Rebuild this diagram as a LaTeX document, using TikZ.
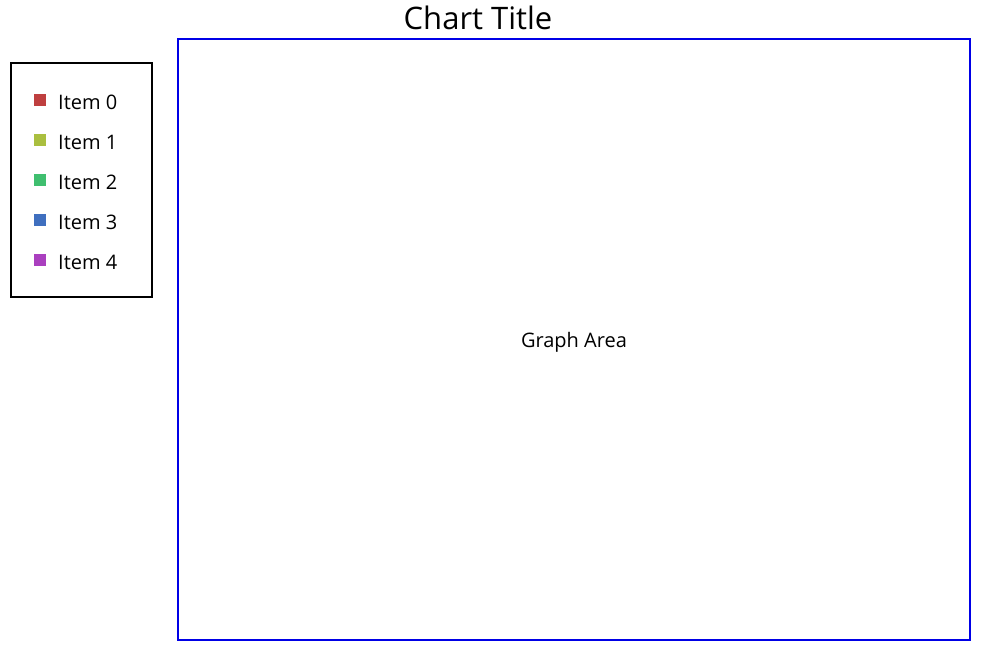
\documentclass[tikz,border=0pt]{standalone}
\usepackage{fontspec}
\setmainfont{Open Sans}
\definecolor{c0}{RGB}{191,63,63}
\definecolor{c1}{RGB}{170,191,63}
\definecolor{c2}{RGB}{63,191,111}
\definecolor{c3}{RGB}{63,111,191}
\definecolor{c4}{RGB}{170,63,191}
\definecolor{frameblue}{RGB}{0,0,230}
\begin{document}
\begin{tikzpicture}[x=1pt,y=-1pt,
  swatch/.style={minimum size=12pt,inner sep=0pt,outer sep=0pt},
  itemlabel/.style={anchor=west,inner sep=0pt,font=\fontsize{20}{24}\selectfont},
  framebox/.style={line width=2pt,inner sep=0pt,outer sep=0pt,anchor=north west},
]
\useasboundingbox (0,0) rectangle (982,649);
\fill[white] (0,0) rectangle (982,649);
\node[framebox,draw=frameblue,minimum width=792pt,minimum height=601pt] (graph) at (177.5,38.5) {};
\node[font=\fontsize{20}{24}\selectfont] (garea) at (574,342) {Graph Area};
\node[font=\fontsize{31}{36}\selectfont] (title) at (478,18) {Chart Title};
\node[framebox,draw=black,minimum width=141pt,minimum height=234pt] (legend) at (10.5,62.5) {};
\foreach \i/\c in {0/c0,1/c1,2/c2,3/c3,4/c4}{
  \node[swatch,fill=\c] (sw\i) at (40,{100+40*\i}) {};
  \node[itemlabel] (it\i) at (58,{102+40*\i}) {Item \i};
}
\end{tikzpicture}
\end{document}
